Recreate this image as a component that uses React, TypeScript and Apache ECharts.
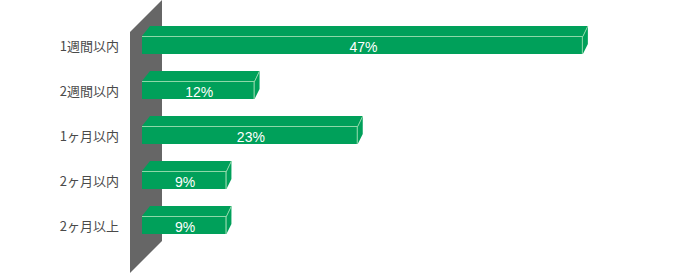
import React, { useEffect, useRef } from "react";
import * as echarts from "echarts";

const categories = ["1週間以内", "2週間以内", "1ヶ月以内", "2ヶ月以内", "2ヶ月以上"];
const values = [47, 12, 23, 9, 9];
const valueLabels = ["47%", "12%", "23%", "9%", "9%"];

const GREEN = "#00a05a";
const EDGE = "#8ed8a8";

export default function App() {
  const ref = useRef<HTMLDivElement>(null);
  useEffect(() => {
    document.body.style.margin = "0";
    const chart = echarts.init(ref.current!, null, { renderer: "svg" });
    chart.setOption({
      animation: false,
      grid: { left: 142, right: 66, top: 22.5, bottom: 26.5 },
      xAxis: { type: "value", min: 0, max: 50, show: false },
      yAxis: {
        type: "category",
        data: categories,
        inverse: true,
        axisLine: { show: false },
        axisTick: { show: false },
        axisLabel: {
          margin: 23,
          fontSize: 13,
          color: "#4a4a4a",
          fontFamily: "Noto Sans CJK JP",
        },
      },
      graphic: [
        {
          type: "polygon",
          z: 0,
          shape: { points: [[130, 32], [162, 0], [162, 241], [130, 273]] },
          style: { fill: "#666666" },
        },
      ],
      series: [
        {
          type: "custom",
          z: 3,
          data: values.map((v, i) => [v, i]),
          encode: { x: 0, y: 1 },
          renderItem: (params: any, api: any) => {
            const v = api.value(0);
            const i = api.value(1);
            const p0 = api.coord([0, i]);
            const p1 = api.coord([v, i]);
            const x0 = p0[0];
            const x1 = p1[0];
            const yc = p0[1];
            const yTop = yc - 9;
            const yBot = yc + 9;
            const dl = 8;
            const dr = 5;
            const dy = 10;
            return {
              type: "group",
              children: [
                {
                  type: "polygon",
                  shape: { points: [[x0, yTop], [x0 + dl, yTop - dy], [x1 + dr, yTop - dy], [x1, yTop]] },
                  style: { fill: GREEN },
                },
                {
                  type: "polygon",
                  shape: { points: [[x1, yTop], [x1 + dr, yTop - dy], [x1 + dr, yBot - dy], [x1, yBot]] },
                  style: { fill: GREEN },
                },
                {
                  type: "rect",
                  shape: { x: x0, y: yTop, width: x1 - x0, height: yBot - yTop },
                  style: { fill: GREEN },
                },
                {
                  type: "polyline",
                  shape: { points: [[x0, yTop + 0.5], [x1, yTop + 0.5], [x1 + dr, yTop - dy]] },
                  style: { stroke: EDGE, lineWidth: 1, fill: null },
                },
                {
                  type: "line",
                  shape: { x1: x1 - 0.5, y1: yTop, x2: x1 - 0.5, y2: yBot },
                  style: { stroke: EDGE, lineWidth: 1 },
                },
                {
                  type: "text",
                  style: {
                    text: valueLabels[params.dataIndex],
                    x: (x0 + x1) / 2 + 1,
                    y: yc + 1.5,
                    align: "center",
                    verticalAlign: "middle",
                    fill: "#ffffff",
                    fontSize: 14,
                    fontFamily: "Liberation Sans",
                  },
                },
              ],
            };
          },
        },
      ],
    });
    return () => chart.dispose();
  }, []);
  return <div ref={ref} style={{ width: 677, height: 274 }} />;
}
